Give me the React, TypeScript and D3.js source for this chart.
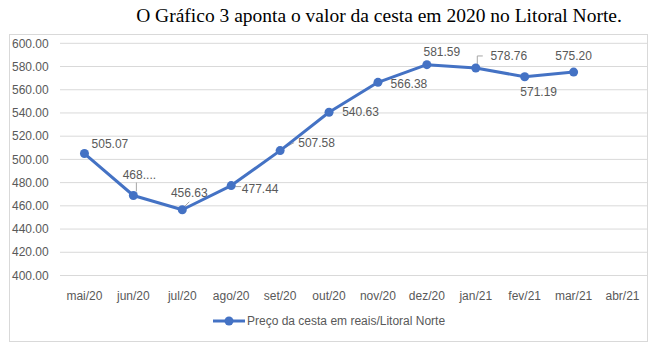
import React from "react";
import * as d3 from "d3";

const categories = ["mai/20", "jun/20", "jul/20", "ago/20", "set/20", "out/20", "nov/20", "dez/20", "jan/21", "fev/21", "mar/21", "abr/21"];
const values: (number | null)[] = [505.07, 468.9, 456.63, 477.44, 507.58, 540.63, 566.38, 581.59, 578.76, 571.19, 575.2, null];
const labels = ["505.07", "468....", "456.63", "477.44", "507.58", "540.63", "566.38", "581.59", "578.76", "571.19", "575.20", ""];
const yTicks = [400, 420, 440, 460, 480, 500, 520, 540, 560, 580, 600];
const title = "O Gráfico 3 aponta o valor da cesta em 2020 no Litoral Norte.";
const seriesName = "Preço da cesta em reais/Litoral Norte";

// label offsets relative to point (dx, dy of text center)
const labelOffsets: [number, number][] = [
  [25.5, -10], [6, -21], [7, -17], [29, 3], [36.5, -7.5], [31.5, 0], [31, 1], [15, -12.5], [33, -12], [14, 15.5], [0, -16.5], [0, 0],
];

const W = 657;
const H = 355;
const color = "#4472C4";
const textColor = "#595959";
const font = "'Liberation Sans', Arial, sans-serif";

export default function App() {
  const x = d3.scaleBand<string>().domain(categories).range([60, 647]);
  const y = d3.scaleLinear().domain([400, 600]).range([275.5, 43.3]);
  const cx = (c: string) => (x(c) as number) + x.bandwidth() / 2;

  const pts = categories
    .map((c, i) => ({ c, v: values[i], l: labels[i], o: labelOffsets[i] }))
    .filter((d) => d.v !== null) as { c: string; v: number; l: string; o: [number, number] }[];

  const line = d3
    .line<{ c: string; v: number }>()
    .x((d) => cx(d.c))
    .y((d) => y(d.v));

  return (
    <svg width={W} height={H} style={{ position: "absolute", left: 0, top: 0 }}>
      <rect x={0} y={0} width={W} height={H} fill="#fff" />
      <text x={379} y={22} textAnchor="middle" fontFamily="'Liberation Serif', 'Times New Roman', serif" fontSize={19.5} fill="#000">
        {title}
      </text>
      <rect x={9.5} y={34.5} width={638} height={307} fill="#fff" stroke="#d9d9d9" strokeWidth={1} />
      {yTicks.map((t) => (
        <g key={t}>
          <line x1={60} x2={647} y1={y(t)} y2={y(t)} stroke="#d9d9d9" strokeWidth={1} />
          <text x={12} y={y(t)} dy="0.35em" fontFamily={font} fontSize={12} fill={textColor}>
            {d3.format(".2f")(t)}
          </text>
        </g>
      ))}
      {categories.map((c) => (
        <text key={c} x={cx(c)} y={296} dy="0.35em" textAnchor="middle" fontFamily={font} fontSize={12} fill={textColor}>
          {c}
        </text>
      ))}
      {/* leader lines */}
      {pts.map((d, i) => {
        const px = cx(d.c);
        const py = y(d.v);
        if (d.c === "jun/20") return <line key={i} x1={px + 3} y1={py - 4} x2={px + 3} y2={py - 13} stroke="#a6a6a6" />;
        if (d.c === "jul/20") return <line key={i} x1={px + 1} y1={py - 2} x2={px + 7} y2={py - 8} stroke="#a6a6a6" />;
        if (d.c === "ago/20") return <line key={i} x1={px + 4} y1={py + 1} x2={px + 10} y2={py + 1} stroke="#a6a6a6" />;
        if (d.c === "set/20") return <line key={i} x1={px + 3} y1={py - 2} x2={px + 14} y2={py - 8} stroke="#a6a6a6" />;
        if (d.c === "jan/21")
          return <polyline key={i} points={`${px + 1.5},${py - 4} ${px + 1.5},${py - 12} ${px + 7},${py - 12}`} fill="none" stroke="#a6a6a6" />;
        return null;
      })}
      <path d={line(pts) || ""} fill="none" stroke={color} strokeWidth={3} strokeLinejoin="round" />
      {pts.map((d, i) => (
        <circle key={i} cx={cx(d.c)} cy={y(d.v)} r={4.5} fill={color} />
      ))}
      {pts.map((d, i) => (
        <text key={i} x={cx(d.c) + d.o[0]} y={y(d.v) + d.o[1]} dy="0.35em" textAnchor="middle" fontFamily={font} fontSize={12} fill={textColor}>
          {d.l}
        </text>
      ))}
      <line x1={213} x2={245} y1={321} y2={321} stroke={color} strokeWidth={3} />
      <circle cx={229} cy={321} r={4.5} fill={color} />
      <text x={247} y={321} dy="0.35em" fontFamily={font} fontSize={12} fill={textColor}>
        {seriesName}
      </text>
    </svg>
  );
}
